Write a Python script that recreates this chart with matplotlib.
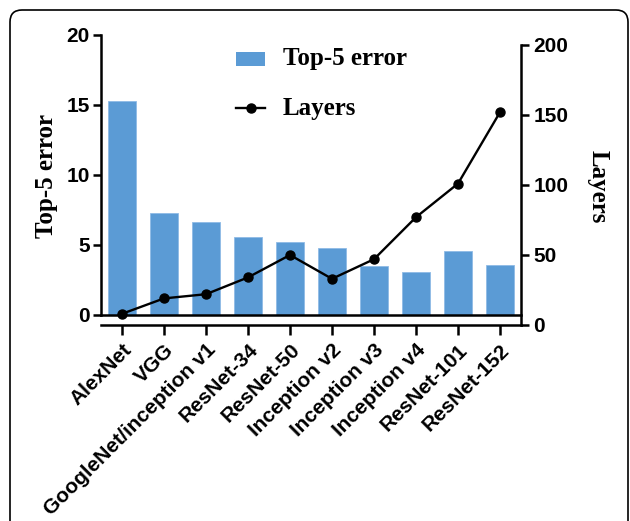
import matplotlib
matplotlib.use("Agg")
import matplotlib.pyplot as plt
from matplotlib.patches import FancyBboxPatch, Rectangle
from matplotlib.lines import Line2D
import numpy as np

categories = ["AlexNet", "VGG", "GoogleNet/inception v1", "ResNet-34", "ResNet-50",
              "Inception v2", "Inception v3", "Inception v4", "ResNet-101", "ResNet-152"]
top5_error = [15.3, 7.3, 6.67, 5.6, 5.25, 4.8, 3.5, 3.08, 4.6, 3.57]
layers = [8, 19, 22, 34, 50, 33, 47, 77, 101, 152]
left_ticks = [0, 5, 10, 15, 20]
right_ticks = [0, 50, 100, 150, 200]
legend_labels = ["Top-5 error", "Layers"]

W, H = 630, 521
fig = plt.figure(figsize=(W / 100, H / 100), dpi=100)

bar_color = "#5b9bd5"
sans = "Liberation Sans"
serif = "Liberation Serif"
lw_axis = 1.8
line_lw = 1.7
msize = 6.5

x = np.arange(len(categories))

# left (bars) axes: x 101..521, y 35..315
ax1 = fig.add_axes([101 / W, (H - 315) / H, 420 / W, 280 / H])
ax1.bar(x, top5_error, width=0.67, color=bar_color, edgecolor="#8fbbe6", linewidth=0.6, zorder=2)
ax1.set_xlim(-0.5, len(categories) - 0.5)
ax1.set_ylim(0, 20)
ax1.set_yticks(left_ticks)
for s in ["top", "right"]:
    ax1.spines[s].set_visible(False)
for s in ["left", "bottom"]:
    ax1.spines[s].set_linewidth(lw_axis)
ax1.set_xticks([])
ax1.tick_params(axis="y", direction="out", length=6, width=lw_axis, pad=2)
for lab in ax1.get_yticklabels():
    lab.set_fontfamily(sans)
    lab.set_fontweight("bold")
    lab.set_fontsize(15)
ax1.patch.set_alpha(0)

# right (layers) axes: y 45..325
ax2 = fig.add_axes([101 / W, (H - 325) / H, 420 / W, 280 / H])
ax2.plot(x, layers, color="black", linewidth=line_lw, marker="o", markersize=msize, zorder=3)
ax2.set_xlim(-0.5, len(categories) - 0.5)
ax2.set_ylim(0, 200)
ax2.patch.set_alpha(0)
for s in ["top", "left"]:
    ax2.spines[s].set_visible(False)
for s in ["right", "bottom"]:
    ax2.spines[s].set_linewidth(lw_axis)
ax2.yaxis.tick_right()
ax2.set_yticks(right_ticks)
ax2.tick_params(axis="y", direction="out", length=6, width=lw_axis, pad=3)
ax2.set_xticks(x)
ax2.set_xticklabels(categories, rotation=45, ha="right", rotation_mode="anchor")
ax2.tick_params(axis="x", direction="out", length=7, width=lw_axis, pad=4)
for lab in ax2.get_yticklabels() + ax2.get_xticklabels():
    lab.set_fontfamily(sans)
    lab.set_fontweight("bold")
    lab.set_fontsize(15)

# axis titles
fig.text(47 / W, 1 - 176 / H, "Top-5 error", rotation=90, ha="center", va="center",
         fontfamily=serif, fontweight="bold", fontsize=18)
fig.text(598 / W, 1 - 187 / H, "Layers", rotation=270, ha="center", va="center",
         fontfamily=serif, fontweight="bold", fontsize=18)

# legend (drawn manually in figure pixel coordinates)
fig.add_artist(Rectangle((236, H - 66), 29, 14, transform=None,
                         facecolor=bar_color, edgecolor="none"))
fig.add_artist(Line2D([236, 265], [H - 108, H - 108], transform=None, color="black",
                      linewidth=line_lw))
fig.add_artist(Line2D([250.5], [H - 108], transform=None, color="black",
                      marker="o", markersize=msize, linestyle="none"))
fig.text(283 / W, 1 - 58 / H, legend_labels[0], ha="left", va="center",
         fontfamily=serif, fontweight="bold", fontsize=18)
fig.text(283 / W, 1 - 108 / H, legend_labels[1], ha="left", va="center",
         fontfamily=serif, fontweight="bold", fontsize=18)

# rounded panel frame
frame = FancyBboxPatch((10, -30), 618, 541, boxstyle="round,pad=0,rounding_size=12",
                       transform=None, facecolor="none", edgecolor="black", linewidth=1.2)
fig.add_artist(frame)

fig.savefig("out.png", dpi=100)
